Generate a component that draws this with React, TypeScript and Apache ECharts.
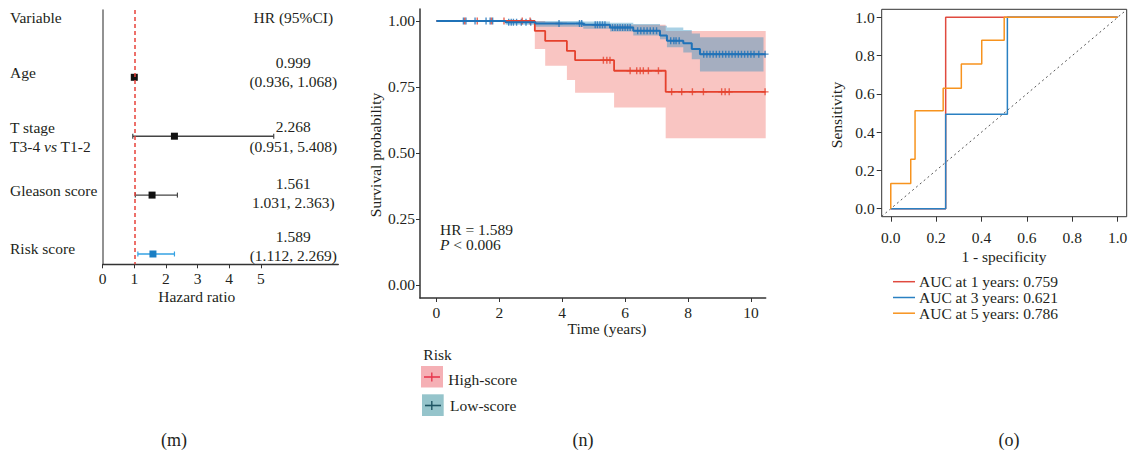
import React, { useEffect, useRef } from "react";
import * as echarts from "echarts";

// ---------- Panel (m): forest plot ----------
const forestVars = ["Age", "T stage", "Gleason score", "Risk score"];
const forestHR = [0.999, 2.268, 1.561, 1.589];
const forestLo = [0.936, 0.951, 1.031, 1.112];
const forestHi = [1.068, 5.408, 2.363, 2.269];
const forestHRText = ["0.999", "2.268", "1.561", "1.589"];
const forestCIText = ["(0.936, 1.068)", "(0.951, 5.408)", "1.031, 2.363)", "(1.112, 2.269)"];
const forestTicks = [0, 1, 2, 3, 4, 5];

// ---------- Panel (n): Kaplan-Meier ----------
const highT = [0, 3.13, 3.46, 4.15, 4.41, 5.65, 7.29];
const highS = [1, 0.962, 0.924, 0.886, 0.851, 0.811, 0.731];
const highUp = [1, 1, 0.995, 0.99, 0.985, 0.985, 0.962];
const highLow = [1, 0.893, 0.83, 0.776, 0.728, 0.672, 0.555];
const highEnd = 10.47;
const highCensor = [0.9, 1.3, 1.75, 2.15, 2.73, 2.98, 5.31, 5.42, 5.52, 6.16, 6.37, 6.48, 6.58, 6.74, 7.06, 7.48, 7.8, 8.14, 8.49, 9.07, 9.18, 9.31, 10.45];

const lowT = [0, 2.2, 3.15, 4.67, 5.52, 6.26, 7.11, 7.33, 7.85, 8.12, 8.38];
const lowS = [1, 0.995, 0.99, 0.985, 0.975, 0.963, 0.945, 0.925, 0.915, 0.893, 0.874];
const lowUp = [1, 1, 1, 0.998, 0.993, 0.988, 0.982, 0.975, 0.965, 0.952, 0.938];
const lowLow = [1, 0.985, 0.978, 0.97, 0.96, 0.945, 0.93, 0.9, 0.88, 0.855, 0.808];
const lowEnd = 10.47;
const lowBandEnd = 10.4;
const lowCensor = [0.86, 0.94, 1.23, 1.58, 1.71, 1.79, 2.3, 2.38, 2.45, 2.55, 2.7, 2.85, 3.0, 3.9, 4.55, 4.62, 5.05, 5.12, 5.2, 5.28, 5.36, 5.6, 5.68, 5.76, 5.84, 5.92, 6.0, 6.08, 6.16, 6.4, 6.5, 6.6, 6.7, 6.8, 6.9, 7.0, 7.45, 7.55, 7.62, 7.72, 8.5, 8.6, 8.7, 8.8, 8.9, 9.0, 9.1, 9.2, 9.3, 9.4, 9.5, 9.6, 9.7, 9.8, 9.9, 10.0, 10.1, 10.25, 10.45];
const kmXTicks = [0, 2, 4, 6, 8, 10];
const kmYTicks = [0, 0.25, 0.5, 0.75, 1];

// ---------- Panel (o): ROC ----------
const roc1X = [0, 0.242, 1];
const roc1Y = [0, 0, 1];
const roc3X = [0, 0.242, 0.514, 1];
const roc3Y = [0, 0, 0.493, 1];
const roc5X = [0, 0.088, 0.107, 0.231, 0.311, 0.401, 0.5, 1];
const roc5Y = [0, 0.132, 0.258, 0.512, 0.629, 0.756, 0.88, 1];
const rocTicks = [0, 0.2, 0.4, 0.6, 0.8, 1];
const rocDiag = [-0.04, 1.04];
const rocLegend = ["AUC at 1 years: 0.759", "AUC at 3 years: 0.621", "AUC at 5 years: 0.786"];

// ---------- styles ----------
const FONT = '"Liberation Serif", "Times New Roman", serif';
const FS = 15.5;
const TXT = "#231f20";
const forestSquareColor = ["#111111", "#111111", "#111111", "#1b7fc4"];
const forestLineColor = ["#444444", "#444444", "#444444", "#35a2e3"];
const RED = "#e5412d";
const BLUE = "#1f72b8";
const ROC_COLORS = ["#e04a3f", "#2a80c2", "#f7931e"];
const CROSS = "path://M4,0H6V4H10V6H6V10H4V6H0V4H4Z";

function stepAt(ts: number[], ss: number[], t: number) {
  let v = ss[0];
  for (let i = 0; i < ts.length; i++) if (ts[i] <= t) v = ss[i];
  return v;
}

function bandSeries(ts: number[], up: number[], lo: number[], end: number, fill: string) {
  return {
    type: "custom",
    xAxisIndex: 1,
    yAxisIndex: 1,
    silent: true,
    data: [[ts[0], up[0]]],
    renderItem: (_p: any, api: any) => {
      const pts: number[][] = [];
      for (let i = 0; i < ts.length; i++) {
        const x1 = i + 1 < ts.length ? ts[i + 1] : end;
        pts.push(api.coord([ts[i], up[i]]), api.coord([x1, up[i]]));
      }
      for (let i = ts.length - 1; i >= 0; i--) {
        const x1 = i + 1 < ts.length ? ts[i + 1] : end;
        pts.push(api.coord([x1, lo[i]]), api.coord([ts[i], lo[i]]));
      }
      return { type: "polygon", shape: { points: pts }, style: { fill } };
    },
  };
}

function txt(text: string, x: number, y: number, opts: any = {}) {
  return {
    type: "text",
    x,
    y,
    rotation: opts.rotation || 0,
    silent: true,
    style: {
      text,
      font: `${opts.size || FS}px ${FONT}`,
      fill: TXT,
      textAlign: opts.align || "left",
      textVerticalAlign: "middle",
      rich: opts.rich,
    },
  };
}

const richSet = (size: number) => ({
  n: { fontFamily: FONT, fontSize: size, color: TXT },
  i: { fontFamily: FONT, fontSize: size, color: TXT, fontStyle: "italic" },
});

export default function App() {
  const ref = useRef<HTMLDivElement>(null);
  useEffect(() => {
    if (!ref.current) return;
    const chart = echarts.init(ref.current, undefined, { renderer: "svg" });

    const axisText = { fontFamily: FONT, fontSize: FS, color: TXT };

    const graphics: any[] = [];
    // forest texts
    graphics.push(txt("Variable", 10, 17));
    graphics.push(txt("HR (95%CI)", 293.3, 17, { align: "center" }));
    graphics.push(txt(forestVars[0], 10, 72.3));
    graphics.push(txt(forestVars[1], 10, 127.7));
    graphics.push(txt("{n|T3-4 }{i|vs}{n| T1-2}", 10, 146.7, { rich: richSet(FS) }));
    graphics.push(txt(forestVars[2], 10, 190));
    graphics.push(txt(forestVars[3], 10, 248.3));
    const hrY = [62.3, 126.7, 183.3, 236];
    const ciY = [81.7, 146.7, 202.7, 255];
    forestHRText.forEach((t, i) => graphics.push(txt(t, 293.3, hrY[i], { align: "center" })));
    forestCIText.forEach((t, i) => graphics.push(txt(t, 293.3, ciY[i], { align: "center" })));
    graphics.push(txt("Hazard ratio", 196.7, 296, { align: "center" }));
    // KM texts
    graphics.push(txt("Survival probability", 375, 155, { align: "center", rotation: Math.PI / 2 }));
    graphics.push(txt("Time (years)", 607, 328.3, { align: "center" }));
    graphics.push(txt("HR = 1.589", 440, 229));
    graphics.push(txt("{i|P}{n| < 0.006}", 440, 244.3, { rich: richSet(FS) }));
    // KM legend
    graphics.push(txt("Risk", 423.3, 354));
    graphics.push({ type: "rect", shape: { x: 421, y: 366, width: 22, height: 21.5 }, style: { fill: "#f5b0b5" }, silent: true });
    graphics.push({ type: "line", shape: { x1: 424, y1: 377, x2: 440, y2: 377 }, style: { stroke: "#e8384f", lineWidth: 1.6 }, silent: true });
    graphics.push({ type: "line", shape: { x1: 431.8, y1: 372.5, x2: 431.8, y2: 381.5 }, style: { stroke: "#e8384f", lineWidth: 1.4 }, silent: true });
    graphics.push(txt("High-score", 448.3, 379));
    graphics.push({ type: "rect", shape: { x: 422, y: 394.3, width: 21.7, height: 21.7 }, style: { fill: "#95c4cb" }, silent: true });
    graphics.push({ type: "line", shape: { x1: 425, y1: 405.5, x2: 441, y2: 405.5 }, style: { stroke: "#1e5563", lineWidth: 1.6 }, silent: true });
    graphics.push({ type: "line", shape: { x1: 431.8, y1: 401, x2: 431.8, y2: 410 }, style: { stroke: "#1e5563", lineWidth: 1.4 }, silent: true });
    graphics.push(txt("Low-score", 450, 405));
    // ROC texts
    graphics.push(txt("Sensitivity", 836.7, 115, { align: "center", rotation: Math.PI / 2 }));
    graphics.push(txt("1 - specificity", 1004, 256, { align: "center" }));
    const legY = [281.7, 297.5, 313.2];
    rocLegend.forEach((t, i) => {
      graphics.push({ type: "line", shape: { x1: 893, y1: legY[i], x2: 915, y2: legY[i] }, style: { stroke: ROC_COLORS[i], lineWidth: 1.5 }, silent: true });
      graphics.push(txt(t, 919, legY[i]));
    });
    // panel labels
    graphics.push(txt("(m)", 174, 440, { align: "center", size: 18 }));
    graphics.push(txt("(n)", 583, 440, { align: "center", size: 18 }));
    graphics.push(txt("(o)", 1009, 440, { align: "center", size: 18 }));

    const forestData = forestHR.map((hr, i) => [hr, forestLo[i], forestHi[i], i + 1]);

    const option: any = {
      animation: false,
      backgroundColor: "#ffffff",
      grid: [
        { left: 102.7, top: 10, width: 235.6, height: 254.3 },
        { left: 420, top: 9, width: 345.7, height: 289 },
        { left: 881.7, top: 9.3, width: 245, height: 207.4, show: true, borderColor: "#333", borderWidth: 1, backgroundColor: "transparent" },
      ],
      xAxis: [
        {
          gridIndex: 0, type: "value", min: 0, max: 7.45,
          axisLine: { show: true, onZero: false, lineStyle: { color: "#333", width: 1.3 } },
          axisTick: { show: true, customValues: forestTicks, length: 4, lineStyle: { color: "#333" } },
          axisLabel: { customValues: forestTicks, margin: 6, ...axisText },
          splitLine: { show: false },
        },
        {
          gridIndex: 1, type: "value", min: -0.52, max: 10.47,
          axisLine: { show: true, onZero: false, lineStyle: { color: "#333", width: 1.5 } },
          axisTick: { show: true, customValues: kmXTicks, length: 4, lineStyle: { color: "#333" } },
          axisLabel: { customValues: kmXTicks, margin: 6, ...axisText },
          splitLine: { show: false },
        },
        {
          gridIndex: 2, type: "value", min: -0.04, max: 1.04,
          axisLine: { show: false, onZero: false },
          axisTick: { show: true, customValues: rocTicks, length: 5, lineStyle: { color: "#333" } },
          axisLabel: { customValues: rocTicks, margin: 13, formatter: (v: number) => v.toFixed(1), ...axisText },
          splitLine: { show: false },
        },
      ],
      yAxis: [
        {
          gridIndex: 0, type: "value", inverse: true, min: -0.1425, max: 4.175,
          axisLine: { show: true, onZero: false, lineStyle: { color: "#777", width: 1.6 } },
          axisTick: { show: false }, axisLabel: { show: false }, splitLine: { show: false },
        },
        {
          gridIndex: 1, type: "value", min: -0.05, max: 1.045,
          axisLine: { show: true, onZero: false, lineStyle: { color: "#333", width: 1.5 } },
          axisTick: { show: true, customValues: kmYTicks, length: 4, lineStyle: { color: "#333" } },
          axisLabel: { customValues: kmYTicks, margin: 5, formatter: (v: number) => v.toFixed(2), ...axisText },
          splitLine: { show: false },
        },
        {
          gridIndex: 2, type: "value", min: -0.042, max: 1.042,
          axisLine: { show: false, onZero: false },
          axisTick: { show: true, customValues: rocTicks, length: 5, lineStyle: { color: "#333" } },
          axisLabel: { customValues: rocTicks, margin: 7, formatter: (v: number) => v.toFixed(1), ...axisText },
          splitLine: { show: false },
        },
      ],
      graphic: { elements: graphics },
      series: [
        // forest
        {
          type: "custom",
          xAxisIndex: 0,
          yAxisIndex: 0,
          silent: true,
          data: forestData,
          renderItem: (params: any, api: any) => {
            const hr = api.value(0), lo = api.value(1), hi = api.value(2), row = api.value(3);
            const pLo = api.coord([lo, row]);
            const pHi = api.coord([hi, row]);
            const p = api.coord([hr, row]);
            const lc = forestLineColor[params.dataIndex];
            const sc = forestSquareColor[params.dataIndex];
            return {
              type: "group",
              children: [
                { type: "line", shape: { x1: pLo[0], y1: pLo[1], x2: pHi[0], y2: pHi[1] }, style: { stroke: lc, lineWidth: 1.4 } },
                { type: "line", shape: { x1: pLo[0], y1: pLo[1] - 2.5, x2: pLo[0], y2: pLo[1] + 2.5 }, style: { stroke: lc, lineWidth: 1.2 } },
                { type: "line", shape: { x1: pHi[0], y1: pHi[1] - 2.5, x2: pHi[0], y2: pHi[1] + 2.5 }, style: { stroke: lc, lineWidth: 1.2 } },
                { type: "rect", shape: { x: p[0] - 3.5, y: p[1] - 3.5, width: 7, height: 7 }, style: { fill: sc } },
              ],
            };
          },
          markLine: {
            silent: true,
            symbol: "none",
            label: { show: false },
            lineStyle: { color: "#e8413a", type: [4, 3], width: 1.5 },
            data: [{ xAxis: 1 }],
          },
        },
        // KM bands
        bandSeries(highT, highUp, highLow, highEnd, "rgba(238,95,85,0.36)"),
        bandSeries(lowT, lowUp, lowLow, lowBandEnd, "rgba(40,140,190,0.40)"),
        // KM lines
        {
          type: "line", xAxisIndex: 1, yAxisIndex: 1, step: "end", symbol: "none", silent: true,
          data: highT.map((t, i) => [t, highS[i]]).concat([[highEnd, highS[highS.length - 1]]]),
          lineStyle: { color: RED, width: 1.8 },
        },
        {
          type: "line", xAxisIndex: 1, yAxisIndex: 1, step: "end", symbol: "none", silent: true,
          data: lowT.map((t, i) => [t, lowS[i]]).concat([[lowEnd, lowS[lowS.length - 1]]]),
          lineStyle: { color: BLUE, width: 2 },
        },
        {
          type: "scatter", xAxisIndex: 1, yAxisIndex: 1, symbol: CROSS, symbolSize: 7, silent: true,
          data: lowCensor.map((t) => [t, stepAt(lowT, lowS, t)]),
          itemStyle: { color: BLUE },
        },
        {
          type: "scatter", xAxisIndex: 1, yAxisIndex: 1, symbol: CROSS, symbolSize: 7, silent: true,
          data: highCensor.map((t) => [t, stepAt(highT, highS, t)]),
          itemStyle: { color: RED },
        },
        // ROC
        {
          type: "line", xAxisIndex: 2, yAxisIndex: 2, symbol: "none", silent: true,
          data: rocDiag.map((v) => [v, v]),
          lineStyle: { color: "#555", width: 1, type: [2, 3] },
        },
        {
          type: "line", xAxisIndex: 2, yAxisIndex: 2, step: "start", symbol: "none", silent: true,
          data: roc1X.map((x, i) => [x, roc1Y[i]]),
          lineStyle: { color: ROC_COLORS[0], width: 1.5 },
        },
        {
          type: "line", xAxisIndex: 2, yAxisIndex: 2, step: "start", symbol: "none", silent: true,
          data: roc3X.map((x, i) => [x, roc3Y[i]]),
          lineStyle: { color: ROC_COLORS[1], width: 1.5 },
        },
        {
          type: "line", xAxisIndex: 2, yAxisIndex: 2, step: "start", symbol: "none", silent: true,
          data: roc5X.map((x, i) => [x, roc5Y[i]]),
          lineStyle: { color: ROC_COLORS[2], width: 1.5 },
        },
      ],
    };
    chart.setOption(option);
    return () => chart.dispose();
  }, []);
  return (
    <div
      ref={ref}
      style={{ position: "absolute", left: 0, top: 0, width: 1135, height: 458, background: "#fff" }}
    />
  );
}
